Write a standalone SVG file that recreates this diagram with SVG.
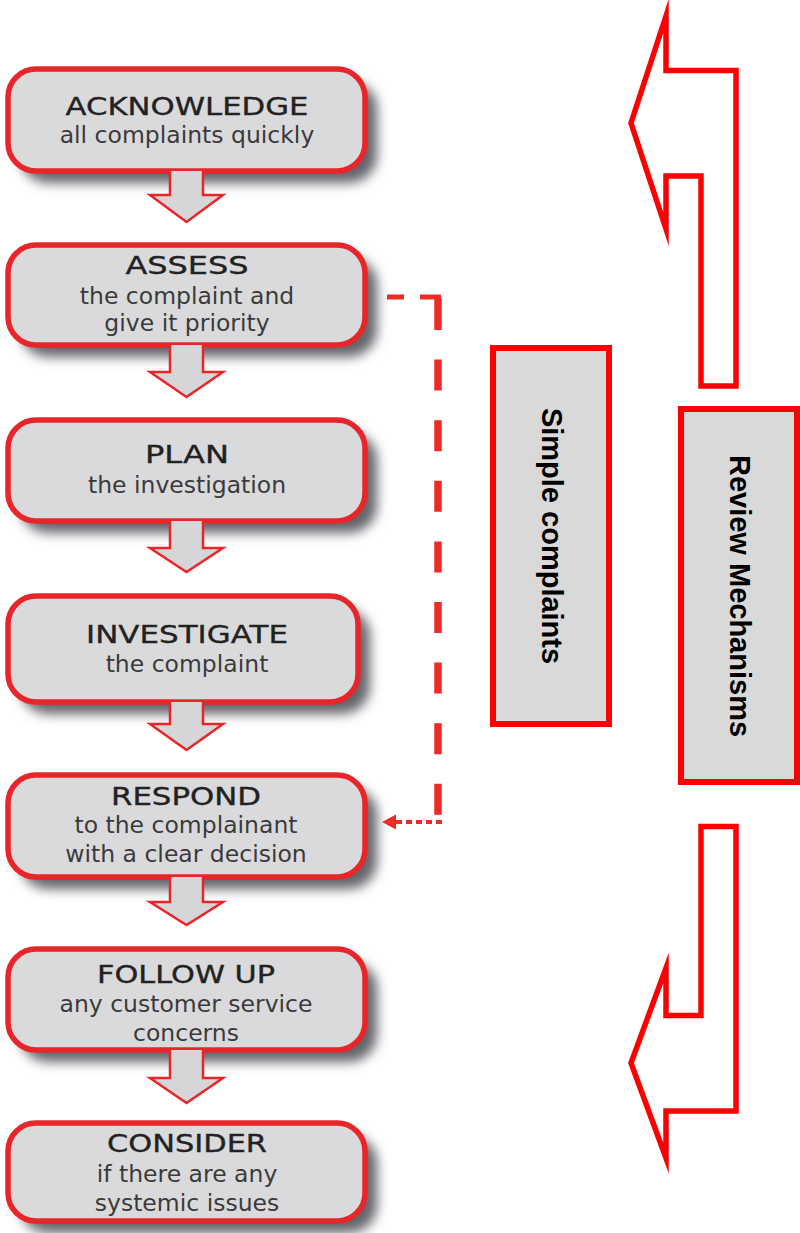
<svg xmlns="http://www.w3.org/2000/svg" width="800" height="1233" viewBox="0 0 800 1233">
  <defs>
    <filter id="soft" x="-20%" y="-30%" width="140%" height="160%">
      <feGaussianBlur stdDeviation="6"/>
    </filter>
    <style>
      .shadow { fill: #63646a; filter: url(#soft); }
      .step { fill: #dadadc; stroke: #e8262a; stroke-width: 5.5; }
      .title { font-family: "DejaVu Sans", "Liberation Sans", sans-serif; font-size: 25px; fill: #222; stroke: #222; stroke-width: 0.35; text-anchor: middle; }
      .sub { font-family: "DejaVu Sans", "Liberation Sans", sans-serif; font-size: 23.5px; fill: #3a3a3a; text-anchor: middle; }
      .down { fill: #d6d6d8; stroke: #e8262a; stroke-width: 2.5; stroke-linejoin: miter; }
      .panel { fill: #d9d9d9; stroke: #ff0000; stroke-width: 6; }
      .vlabel { font-family: "Liberation Sans", Arial, sans-serif; font-size: 29px; font-weight: bold; fill: #000; text-anchor: middle; }
      .bigarrow { fill: none; stroke: #ff0000; stroke-width: 5.5; stroke-miterlimit: 12; }
      .dash { stroke: #ee2a24; fill: none; }
    </style>
  </defs>

  <rect width="800" height="1233" fill="#ffffff"/>

  <!-- process steps -->
  <g id="acknowledge">
    <rect class="shadow" x="20" y="81" width="357" height="102" rx="28"/>
    <rect class="step" x="8" y="69" width="357" height="102" rx="28"/>
    <text class="title" x="187" y="115" textLength="243" lengthAdjust="spacingAndGlyphs">ACKNOWLEDGE</text>
    <text class="sub" x="187" y="143">all complaints quickly</text>
  </g>

  <g id="assess">
    <rect class="shadow" x="20" y="257" width="357" height="100" rx="28"/>
    <rect class="step" x="8" y="245" width="357" height="100" rx="28"/>
    <text class="title" x="187" y="274" textLength="123" lengthAdjust="spacingAndGlyphs">ASSESS</text>
    <text class="sub" x="187" y="304">the complaint and</text>
    <text class="sub" x="187" y="331">give it priority</text>
  </g>

  <g id="plan">
    <rect class="shadow" x="20" y="432" width="357" height="101" rx="28"/>
    <rect class="step" x="8" y="420" width="357" height="101" rx="28"/>
    <text class="title" x="187" y="463" textLength="84" lengthAdjust="spacingAndGlyphs">PLAN</text>
    <text class="sub" x="187" y="493">the investigation</text>
  </g>

  <g id="investigate">
    <rect class="shadow" x="20" y="608" width="350" height="106" rx="28"/>
    <rect class="step" x="8" y="596" width="350" height="106" rx="28"/>
    <text class="title" x="187" y="643" textLength="202" lengthAdjust="spacingAndGlyphs">INVESTIGATE</text>
    <text class="sub" x="187" y="672">the complaint</text>
  </g>

  <g id="respond">
    <rect class="shadow" x="20" y="787" width="357" height="102" rx="28"/>
    <rect class="step" x="8" y="775" width="357" height="102" rx="28"/>
    <text class="title" x="186" y="805" textLength="150" lengthAdjust="spacingAndGlyphs">RESPOND</text>
    <text class="sub" x="186" y="833">to the complainant</text>
    <text class="sub" x="186" y="862">with a clear decision</text>
  </g>

  <g id="follow-up">
    <rect class="shadow" x="20" y="961" width="357" height="101" rx="28"/>
    <rect class="step" x="8" y="949" width="357" height="101" rx="28"/>
    <text class="title" x="186" y="983" textLength="178" lengthAdjust="spacingAndGlyphs">FOLLOW UP</text>
    <text class="sub" x="186" y="1012">any customer service</text>
    <text class="sub" x="186" y="1041">concerns</text>
  </g>

  <g id="consider">
    <rect class="shadow" x="20" y="1135" width="357" height="98" rx="28"/>
    <rect class="step" x="8" y="1123" width="357" height="98" rx="28"/>
    <text class="title" x="187" y="1152" textLength="160" lengthAdjust="spacingAndGlyphs">CONSIDER</text>
    <text class="sub" x="187" y="1182">if there are any</text>
    <text class="sub" x="187" y="1211">systemic issues</text>
  </g>

  <!-- side panels -->
  <g id="simple-complaints">
    <rect class="panel" x="493" y="348" width="116" height="376"/>
    <text class="vlabel" transform="translate(552,536) rotate(90)" x="0" y="10">Simple complaints</text>
  </g>

  <g id="review-mechanisms">
    <rect class="panel" x="681" y="409" width="116" height="373"/>
    <text class="vlabel" transform="translate(740,596) rotate(90)" x="0" y="10">Review Mechanisms</text>
  </g>

  <!-- feedback arrows around the review panel -->
  <g id="review-arrow-top">
    <polygon class="bigarrow" points="666,16 631,123 666,229 666,176 701,176 701,386 736,386 736,70.5 666,70.5"/>
  </g>
  <g id="review-arrow-bottom">
    <polygon class="bigarrow" points="701,826.5 736,826.5 736,1111 666,1111 666,1158 631,1063 666,968 666,1015.5 701,1015.5"/>
  </g>

  <!-- connectors -->
  <g id="connectors">
    <path class="down" d="M170,171 V195 H150 L186.5,222 L223,195 H203 V171"/>
    <path class="down" d="M170,345 V372 H150 L186.5,397 L223,372 H203 V345"/>
    <path class="down" d="M170,521 V548 H150 L186.5,572 L223,548 H203 V521"/>
    <path class="down" d="M170,702 V724 H150 L186.5,750 L223,724 H203 V702"/>
    <path class="down" d="M170,877 V902 H150 L186.5,925 L223,902 H203 V877"/>
    <path class="down" d="M170,1050 V1078 H150 L186.5,1103 L223,1078 H203 V1050"/>

    <!-- shortcut from assessment straight to the response -->
    <g id="shortcut">
      <line class="dash" x1="387" y1="297" x2="404" y2="297" stroke-width="5"/>
      <line class="dash" x1="420" y1="297" x2="441" y2="297" stroke-width="5"/>
      <line class="dash" x1="438" y1="299" x2="438" y2="824" stroke-width="7.5" stroke-dasharray="31 29.6"/>
      <line class="dash" x1="442" y1="822" x2="393" y2="822" stroke-width="4" stroke-dasharray="6 4"/>
      <polygon points="382,822 396,814.5 396,829.5" fill="#ee2a24"/>
    </g>
  </g>
</svg>
